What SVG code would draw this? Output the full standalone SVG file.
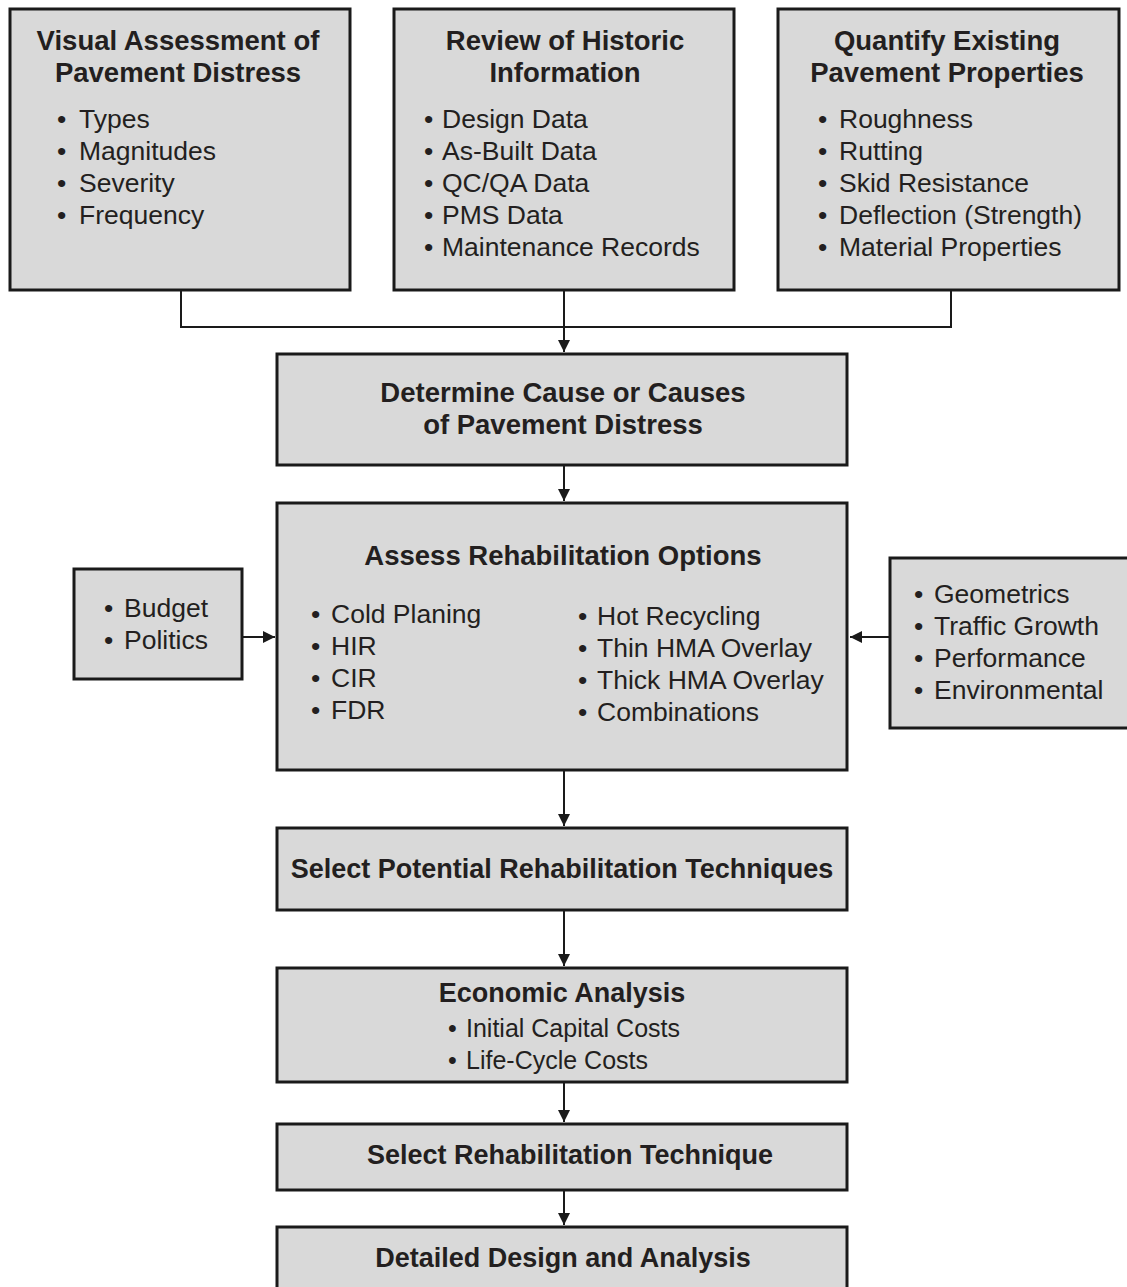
<svg xmlns="http://www.w3.org/2000/svg" width="1127" height="1287" viewBox="0 0 1127 1287">
  <style>
    .box { fill: #d9d9d9; stroke: #1a1a1a; stroke-width: 3; }
    .title { font-family: "Liberation Sans", Arial, sans-serif; font-weight: bold; font-size: 27.5px; fill: #231f20; text-anchor: middle; }
    .title.sm { font-size: 27px; }
    .item { font-family: "Liberation Sans", Arial, sans-serif; font-size: 26.5px; fill: #231f20; }
    .item.sm { font-size: 25px; }
    .link { fill: none; stroke: #1a1a1a; stroke-width: 2; }
  </style>
  <defs>
    <marker id="arrow" viewBox="0 0 12 12" refX="12" refY="6" markerWidth="12" markerHeight="12" markerUnits="userSpaceOnUse" orient="auto">
      <path d="M0,0 L12,6 L0,12 Z" fill="#1a1a1a"/>
    </marker>
  </defs>

  <rect width="1127" height="1287" fill="#ffffff"/>

  <!-- connectors -->
  <g id="connectors">
    <path class="link" d="M181,290 V327 H951 V290"/>
    <path class="link" d="M564,290 V352" marker-end="url(#arrow)"/>
    <path class="link" d="M564,465 V501" marker-end="url(#arrow)"/>
    <path class="link" d="M242,637 H275" marker-end="url(#arrow)"/>
    <path class="link" d="M890,637 H850" marker-end="url(#arrow)"/>
    <path class="link" d="M564,770 V826" marker-end="url(#arrow)"/>
    <path class="link" d="M564,910 V966" marker-end="url(#arrow)"/>
    <path class="link" d="M564,1082 V1122" marker-end="url(#arrow)"/>
    <path class="link" d="M564,1190 V1225" marker-end="url(#arrow)"/>
  </g>

  <!-- top row: inputs -->
  <g id="visual-assessment">
    <rect class="box" x="10" y="9" width="340" height="281"/>
    <text class="title" x="178" y="50">Visual Assessment of</text>
    <text class="title" x="178" y="82">Pavement Distress</text>
    <text class="item" y="128"><tspan x="57">•</tspan><tspan x="79">Types</tspan></text>
    <text class="item" y="160"><tspan x="57">•</tspan><tspan x="79">Magnitudes</tspan></text>
    <text class="item" y="192"><tspan x="57">•</tspan><tspan x="79">Severity</tspan></text>
    <text class="item" y="224"><tspan x="57">•</tspan><tspan x="79">Frequency</tspan></text>
  </g>

  <g id="historic-information">
    <rect class="box" x="394" y="9" width="340" height="281"/>
    <text class="title" x="565" y="50">Review of Historic</text>
    <text class="title" x="565" y="82">Information</text>
    <text class="item" y="128"><tspan x="424">•</tspan><tspan x="442">Design Data</tspan></text>
    <text class="item" y="160"><tspan x="424">•</tspan><tspan x="442">As-Built Data</tspan></text>
    <text class="item" y="192"><tspan x="424">•</tspan><tspan x="442">QC/QA Data</tspan></text>
    <text class="item" y="224"><tspan x="424">•</tspan><tspan x="442">PMS Data</tspan></text>
    <text class="item" y="256"><tspan x="424">•</tspan><tspan x="442">Maintenance Records</tspan></text>
  </g>

  <g id="pavement-properties">
    <rect class="box" x="778" y="9" width="341" height="281"/>
    <text class="title" x="947" y="50">Quantify Existing</text>
    <text class="title" x="947" y="82">Pavement Properties</text>
    <text class="item" y="128"><tspan x="818">•</tspan><tspan x="839">Roughness</tspan></text>
    <text class="item" y="160"><tspan x="818">•</tspan><tspan x="839">Rutting</tspan></text>
    <text class="item" y="192"><tspan x="818">•</tspan><tspan x="839">Skid Resistance</tspan></text>
    <text class="item" y="224"><tspan x="818">•</tspan><tspan x="839">Deflection (Strength)</tspan></text>
    <text class="item" y="256"><tspan x="818">•</tspan><tspan x="839">Material Properties</tspan></text>
  </g>

  <!-- main flow -->
  <g id="determine-cause">
    <rect class="box" x="277" y="354" width="570" height="111"/>
    <text class="title" x="563" y="402">Determine Cause or Causes</text>
    <text class="title" x="563" y="434">of Pavement Distress</text>
  </g>

  <g id="assess-options">
    <rect class="box" x="277" y="503" width="570" height="267"/>
    <text class="title" x="563" y="565">Assess Rehabilitation Options</text>
    <text class="item" y="623"><tspan x="311">•</tspan><tspan x="331">Cold Planing</tspan></text>
    <text class="item" y="655"><tspan x="311">•</tspan><tspan x="331">HIR</tspan></text>
    <text class="item" y="687"><tspan x="311">•</tspan><tspan x="331">CIR</tspan></text>
    <text class="item" y="719"><tspan x="311">•</tspan><tspan x="331">FDR</tspan></text>
    <text class="item" y="625"><tspan x="578">•</tspan><tspan x="597">Hot Recycling</tspan></text>
    <text class="item" y="657"><tspan x="578">•</tspan><tspan x="597">Thin HMA Overlay</tspan></text>
    <text class="item" y="689"><tspan x="578">•</tspan><tspan x="597">Thick HMA Overlay</tspan></text>
    <text class="item" y="721"><tspan x="578">•</tspan><tspan x="597">Combinations</tspan></text>
  </g>

  <g id="constraints">
    <rect class="box" x="74" y="569" width="168" height="110"/>
    <text class="item" y="617"><tspan x="104">•</tspan><tspan x="124">Budget</tspan></text>
    <text class="item" y="649"><tspan x="104">•</tspan><tspan x="124">Politics</tspan></text>
  </g>

  <g id="factors">
    <rect class="box" x="890" y="558" width="240" height="170"/>
    <text class="item" y="603"><tspan x="914">•</tspan><tspan x="934">Geometrics</tspan></text>
    <text class="item" y="635"><tspan x="914">•</tspan><tspan x="934">Traffic Growth</tspan></text>
    <text class="item" y="667"><tspan x="914">•</tspan><tspan x="934">Performance</tspan></text>
    <text class="item" y="699"><tspan x="914">•</tspan><tspan x="934">Environmental</tspan></text>
  </g>

  <g id="potential-techniques">
    <rect class="box" x="277" y="828" width="570" height="82"/>
    <text class="title sm" x="562" y="878">Select Potential Rehabilitation Techniques</text>
  </g>

  <g id="economic-analysis">
    <rect class="box" x="277" y="968" width="570" height="114"/>
    <text class="title sm" x="562" y="1002">Economic Analysis</text>
    <text class="item sm" y="1037"><tspan x="448">•</tspan><tspan x="466">Initial Capital Costs</tspan></text>
    <text class="item sm" y="1069"><tspan x="448">•</tspan><tspan x="466">Life-Cycle Costs</tspan></text>
  </g>

  <g id="select-technique">
    <rect class="box" x="277" y="1124" width="570" height="66"/>
    <text class="title sm" x="570" y="1164">Select Rehabilitation Technique</text>
  </g>

  <g id="detailed-design">
    <rect class="box" x="277" y="1227" width="570" height="80"/>
    <text class="title sm" x="563" y="1267">Detailed Design and Analysis</text>
  </g>
</svg>
